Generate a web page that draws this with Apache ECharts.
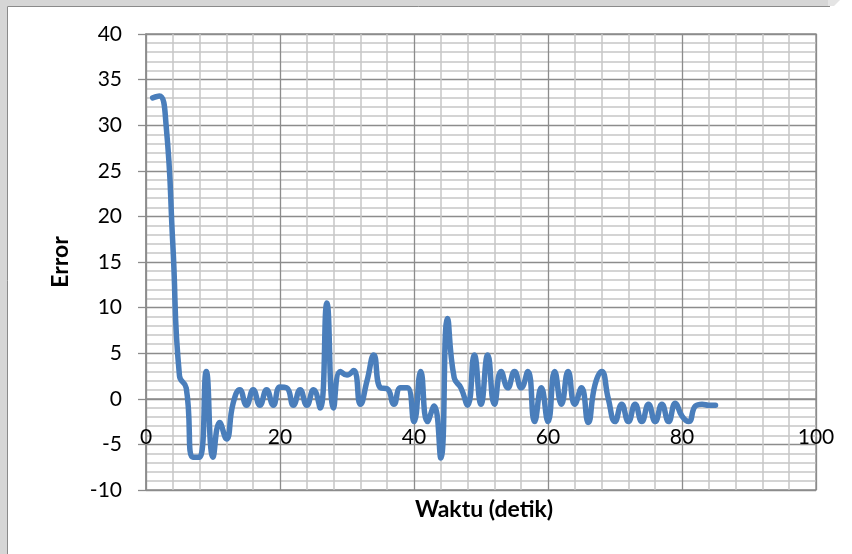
<!DOCTYPE html>
<html>
<head>
<meta charset="utf-8">
<script src="https://cdn.jsdelivr.net/npm/echarts@6/dist/echarts.min.js"></script>
<style>
  html, body { margin: 0; padding: 0; background: #fff; }
  #chart { width: 852px; height: 554px; }
</style>
</head>
<body>
<div id="chart"></div>
<script>
// Time in seconds
const waktu = [1, 2, 3, 4, 5, 6, 7, 8, 9, 10,
  11, 12, 13, 14, 15, 16, 17, 18, 19, 20,
  21, 22, 23, 24, 25, 26, 27, 28, 29, 30,
  31, 32, 33, 34, 35, 36, 37, 38, 39, 40,
  41, 42, 43, 44, 45, 46, 47, 48, 49, 50,
  51, 52, 53, 54, 55, 56, 57, 58, 59, 60,
  61, 62, 63, 64, 65, 66, 67, 68, 69, 70,
  71, 72, 73, 74, 75, 76, 77, 78, 79, 80,
  81, 82, 83, 84, 85];

// Error value at each second
const errorVals = [33, 33.2, 30, 17, 2.5, 1.2, -6.4, -6.4, 3, -6.4,
  -2.6, -4.4, -0.5, 1, -0.7, 1, -0.7, 1, -0.7, 1.3,
  1.2, -0.7, 1, -0.7, 1, -1, 10.5, -1, 3, 2.6,
  3.1, -0.6, 2, 4.8, 1.2, 1.1, -0.6, 1.2, 1.2, -2.5,
  3, -2.5, -0.8, -6.5, 8.8, 2.3, 1.2, -0.7, 4.8, -0.6,
  4.8, -0.6, 3, 1.2, 3, 1.2, 3, -2.5, 1.2, -2.5,
  3, -0.6, 3, -0.6, 1.2, -2.6, 1.5, 3, 0, -2.5,
  -0.6, -2.5, -0.6, -2.5, -0.6, -2.5, -0.6, -2.5, -0.5, -1.9,
  -2.5, -0.8, -0.6, -0.7, -0.7];

// Axis ranges and tick steps
const xRange = [0, 100], xStep = 20;
const yRange = [-10, 40], yStep = 5;

const xTitle = 'Waktu (detik)';
const yTitle = 'Error';

const FONT = 'Lato, "Open Sans", sans-serif';
const majorColor = '#8c8c8c';
const minorColor = '#c6c6c6';

const chart = echarts.init(document.getElementById('chart'), null, { renderer: 'canvas' });

chart.setOption({
  animation: false,
  backgroundColor: '#ffffff',
  grid: {
    left: 146, right: 36, top: 34, bottom: 64,
    show: true, borderColor: majorColor, borderWidth: 1.3, backgroundColor: 'transparent'
  },
  xAxis: {
    type: 'value',
    position: 'bottom',
    min: xRange[0], max: xRange[1], interval: xStep,
    axisLine: { show: true, onZero: false, lineStyle: { color: majorColor, width: 1.5 } },
    axisTick: { show: false },
    axisLabel: { color: '#000', fontFamily: FONT, fontSize: 21, margin: 28 },
    splitLine: { show: true, lineStyle: { color: majorColor, width: 1.3 } },
    minorTick: { show: false, splitNumber: 5 },
    minorSplitLine: { show: true, lineStyle: { color: minorColor, width: 1.5 } }
  },
  yAxis: {
    type: 'value',
    min: yRange[0], max: yRange[1], interval: yStep,
    axisLine: { show: true, onZero: false, lineStyle: { color: majorColor, width: 1.5 } },
    axisTick: { show: true, inside: false, length: 8, lineStyle: { color: majorColor, width: 1.3 } },
    axisLabel: { color: '#000', fontFamily: FONT, fontSize: 21, margin: 24 },
    splitLine: { show: true, lineStyle: { color: majorColor, width: 1.3 } },
    minorTick: { show: false, splitNumber: 5 },
    minorSplitLine: { show: true, lineStyle: { color: minorColor, width: 1.5 } }
  },
  series: [{
    type: 'line',
    data: waktu.map((t, i) => [t, errorVals[i]]),
    smooth: 0.5,
    showSymbol: false,
    lineStyle: { color: '#4a7ebb', width: 5.5, cap: 'round', join: 'round' },
    z: 5
  }],
  graphic: [
    // frame strip along the top and left edges
    { type: 'rect', shape: { x: 0, y: 0, width: 828, height: 6 }, style: { fill: '#d6d6d6' }, z: -10, silent: true },
    { type: 'polygon', shape: { points: [[828, 0], [840, 0], [834, 6], [828, 6]] }, style: { fill: '#e4e4e4' }, z: -10, silent: true },
    { type: 'rect', shape: { x: 0, y: 0, width: 7, height: 554 }, style: { fill: '#d6d6d6' }, z: -10, silent: true },
    { type: 'line', shape: { x1: 7.5, y1: 6.5, x2: 830, y2: 6.5 }, style: { stroke: '#8a8a8a', lineWidth: 1 }, z: -9, silent: true },
    { type: 'line', shape: { x1: 7.5, y1: 6.5, x2: 7.5, y2: 554 }, style: { stroke: '#8a8a8a', lineWidth: 1 }, z: -9, silent: true },
    // axis titles
    {
      type: 'text', x: 484, y: 510,
      style: { text: xTitle, font: 'bold 23px ' + FONT, fill: '#000', align: 'center', verticalAlign: 'middle' }
    },
    {
      type: 'text', x: 61, y: 262, rotation: Math.PI / 2,
      style: { text: yTitle, font: 'bold 23px ' + FONT, fill: '#000', align: 'center', verticalAlign: 'middle' }
    }
  ]
});

// Lift the horizontal axis (line and labels) up to where the value axis crosses zero
const zeroY = chart.convertToPixel({ yAxisIndex: 0 }, 0);
const bottomY = chart.convertToPixel({ yAxisIndex: 0 }, yRange[0]);
chart.setOption({ xAxis: { offset: zeroY - bottomY } });
</script>
</body>
</html>
